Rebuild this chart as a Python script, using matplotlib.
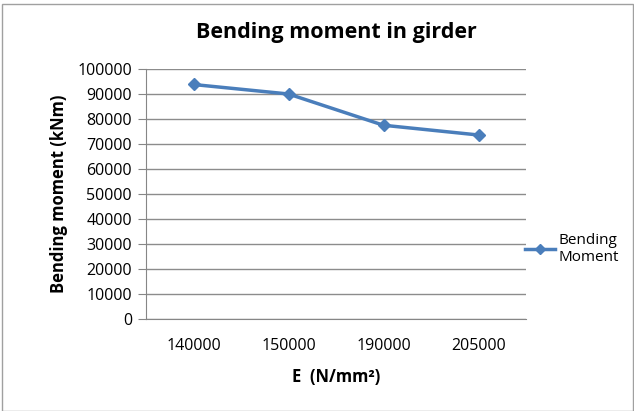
import matplotlib
matplotlib.use("Agg")
import matplotlib.pyplot as plt
from matplotlib.patches import Rectangle

categories = ["140000", "150000", "190000", "205000"]
values = [93800, 90000, 77500, 73600]
yticks = list(range(0, 100001, 10000))

plt.rcParams['font.family'] = ['Open Sans', 'DejaVu Sans']

fig = plt.figure(figsize=(6.34, 4.11), dpi=100)
ax = fig.add_axes([146/634, 1-319/411, 380/634, 250/411])

x = list(range(len(categories)))
ax.plot(x, values, color='#4a7ebb', linewidth=2.5, marker='D', markersize=6,
        label='Bending\nMoment')
ax.set_xlim(-0.5, len(categories)-0.5)
ax.set_ylim(0, 100000)
ax.set_yticks(yticks)
ax.set_yticklabels([str(v) for v in yticks], fontsize=11.5)
ax.set_xticks(x)
ax.set_xticklabels(categories, fontsize=11.5)
ax.tick_params(axis='x', length=0, pad=14)
ax.tick_params(axis='y', length=6, color='#868686', pad=4)
ax.grid(axis='y', color='#8c8c8c', linewidth=1)
ax.set_axisbelow(True)
for s in ['top', 'right']:
    ax.spines[s].set_visible(False)
ax.spines['left'].set_color('#868686')
ax.spines['bottom'].set_color('#868686')

ax.set_title('Bending moment in girder', fontsize=15.5, fontweight='bold', pad=22)
ax.set_ylabel('Bending moment (kNm)', fontsize=12, fontweight='bold', labelpad=7)
ax.set_xlabel('E  (N/mm²)', fontsize=12, fontweight='bold', labelpad=10)

ax.legend(loc='center left', bbox_to_anchor=(0.96, 0.28), frameon=False,
          fontsize=11, handlelength=2.0, handletextpad=0.2, markerscale=0.8)

fig.patches.append(Rectangle((2/634, 0), 1-3/634, 1-4/411, transform=fig.transFigure,
                             fill=False, edgecolor='#a0a0a0', linewidth=1))
fig.savefig('out.png', dpi=100)
